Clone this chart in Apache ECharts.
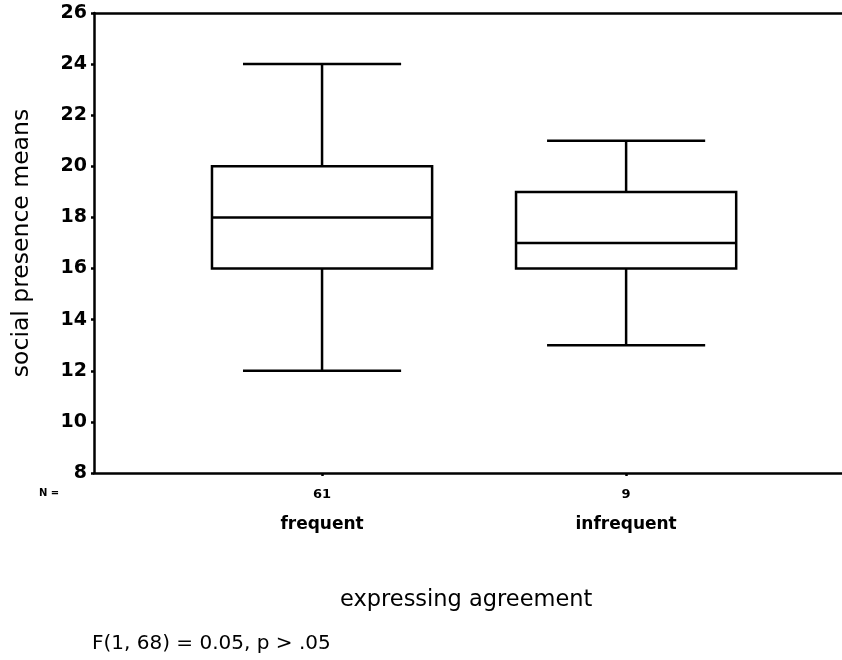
<!DOCTYPE html>
<html>
<head>
<meta charset="utf-8">
<script src="https://cdn.jsdelivr.net/npm/echarts@6/dist/echarts.min.js"></script>
<style>
  html, body { margin: 0; padding: 0; background: #fff; }
  #chart { width: 842px; height: 660px; }
</style>
</head>
<body>
<div id="chart"></div>
<script>
// Groups on the horizontal axis and their sample sizes
const groups = ['frequent', 'infrequent'];
const groupN = [61, 9];

// Five-number summaries per group
const whiskerLow = [12, 13];
const quartile1 = [16, 16];
const medians = [18, 17];
const quartile3 = [20, 19];
const whiskerHigh = [24, 21];

// Vertical axis ticks
const yTicks = [8, 10, 12, 14, 16, 18, 20, 22, 24, 26];

const FONT = '"DejaVu Sans", Verdana, sans-serif';
const BOX_HALF = 0.362;   // half box width, in x-axis units
const CAP_HALF = 0.26;    // half whisker-cap width, in x-axis units
const LW = 2.5;

const boxData = groups.map((g, i) => [
  i + 1, whiskerLow[i], quartile1[i], medians[i], quartile3[i], whiskerHigh[i]
]);

function renderBox(params, api) {
  const x = api.value(0);
  const lo = api.value(1), q1 = api.value(2), md = api.value(3),
        q3 = api.value(4), hi = api.value(5);
  const c = (xx, yy) => api.coord([xx, yy]);
  const style = { stroke: '#000', lineWidth: LW, fill: null };
  const line = (a, b) => ({
    type: 'line',
    shape: { x1: a[0], y1: a[1], x2: b[0], y2: b[1] },
    style: style
  });
  const tl = c(x - BOX_HALF, q3), br = c(x + BOX_HALF, q1);
  return {
    type: 'group',
    children: [
      line(c(x, hi), c(x, q3)),
      line(c(x, q1), c(x, lo)),
      line(c(x - CAP_HALF, hi), c(x + CAP_HALF, hi)),
      line(c(x - CAP_HALF, lo), c(x + CAP_HALF, lo)),
      {
        type: 'rect',
        shape: { x: tl[0], y: tl[1], width: br[0] - tl[0], height: br[1] - tl[1] },
        style: { stroke: '#000', lineWidth: LW, fill: '#fff' }
      },
      line(c(x - BOX_HALF, md), c(x + BOX_HALF, md))
    ]
  };
}

const chart = echarts.init(document.getElementById('chart'), null, { renderer: 'canvas' });

chart.setOption({
  animation: false,
  backgroundColor: '#fff',
  textStyle: { fontFamily: FONT, color: '#000' },
  grid: { left: 94, top: 13, right: 0, height: 460, containLabel: false },
  xAxis: [
    {
      type: 'value',
      min: 0.25,
      max: 2.71,
      position: 'bottom',
      splitLine: { show: false },
      axisLine: { show: true, lineStyle: { color: '#000', width: LW } },
      axisTick: {
        show: true, length: 3, customValues: [1, 2],
        lineStyle: { color: '#000', width: 2.5 }
      },
      axisLabel: {
        show: true,
        customValues: [1, 2],
        margin: 9,
        formatter: v => {
          const i = Math.round(v) - 1;
          return '{n|' + groupN[i] + '}\n{g|' + groups[i] + '}';
        },
        rich: {
          n: { fontFamily: FONT, fontSize: 13, fontWeight: 'bold', color: '#000', lineHeight: 26, align: 'center' },
          g: { fontFamily: FONT, fontSize: 17, fontWeight: 'bold', color: '#000', lineHeight: 34, align: 'center' }
        }
      }
    },
    {
      type: 'value',
      min: 0.25,
      max: 2.71,
      position: 'top',
      splitLine: { show: false },
      axisLine: { show: true, lineStyle: { color: '#000', width: LW } },
      axisTick: { show: false },
      axisLabel: { show: false }
    }
  ],
  yAxis: {
    type: 'value',
    min: 8,
    max: 26,
    interval: 2,
    name: 'social presence means',
    nameLocation: 'middle',
    nameGap: 60,
    nameRotate: 90,
    nameTextStyle: { fontFamily: FONT, fontSize: 23.5, color: '#000' },
    splitLine: { show: false },
    axisLine: { show: true, lineStyle: { color: '#000', width: LW } },
    axisTick: { show: true, length: 3, lineStyle: { color: '#000', width: 2.5 } },
    axisLabel: {
      margin: 7,
      fontFamily: FONT,
      fontSize: 19,
      fontWeight: 'bold',
      color: '#000',
      formatter: v => (yTicks.indexOf(v) >= 0 ? String(v) : '')
    }
  },
  graphic: [
    {
      type: 'text', left: 39, top: 488,
      style: { text: 'N =', font: 'bold 10px ' + FONT, fill: '#000' }
    },
    {
      type: 'text', left: 340, top: 589,
      style: { text: 'expressing agreement', font: '22.5px ' + FONT, fill: '#000' }
    },
    {
      type: 'text', left: 92, top: 634,
      style: { text: 'F(1, 68) = 0.05, p > .05', font: '20px ' + FONT, fill: '#000' }
    }
  ],
  series: [{
    type: 'custom',
    xAxisIndex: 0,
    renderItem: renderBox,
    encode: { x: 0, y: [1, 2, 3, 4, 5] },
    data: boxData
  }]
});
</script>
</body>
</html>
